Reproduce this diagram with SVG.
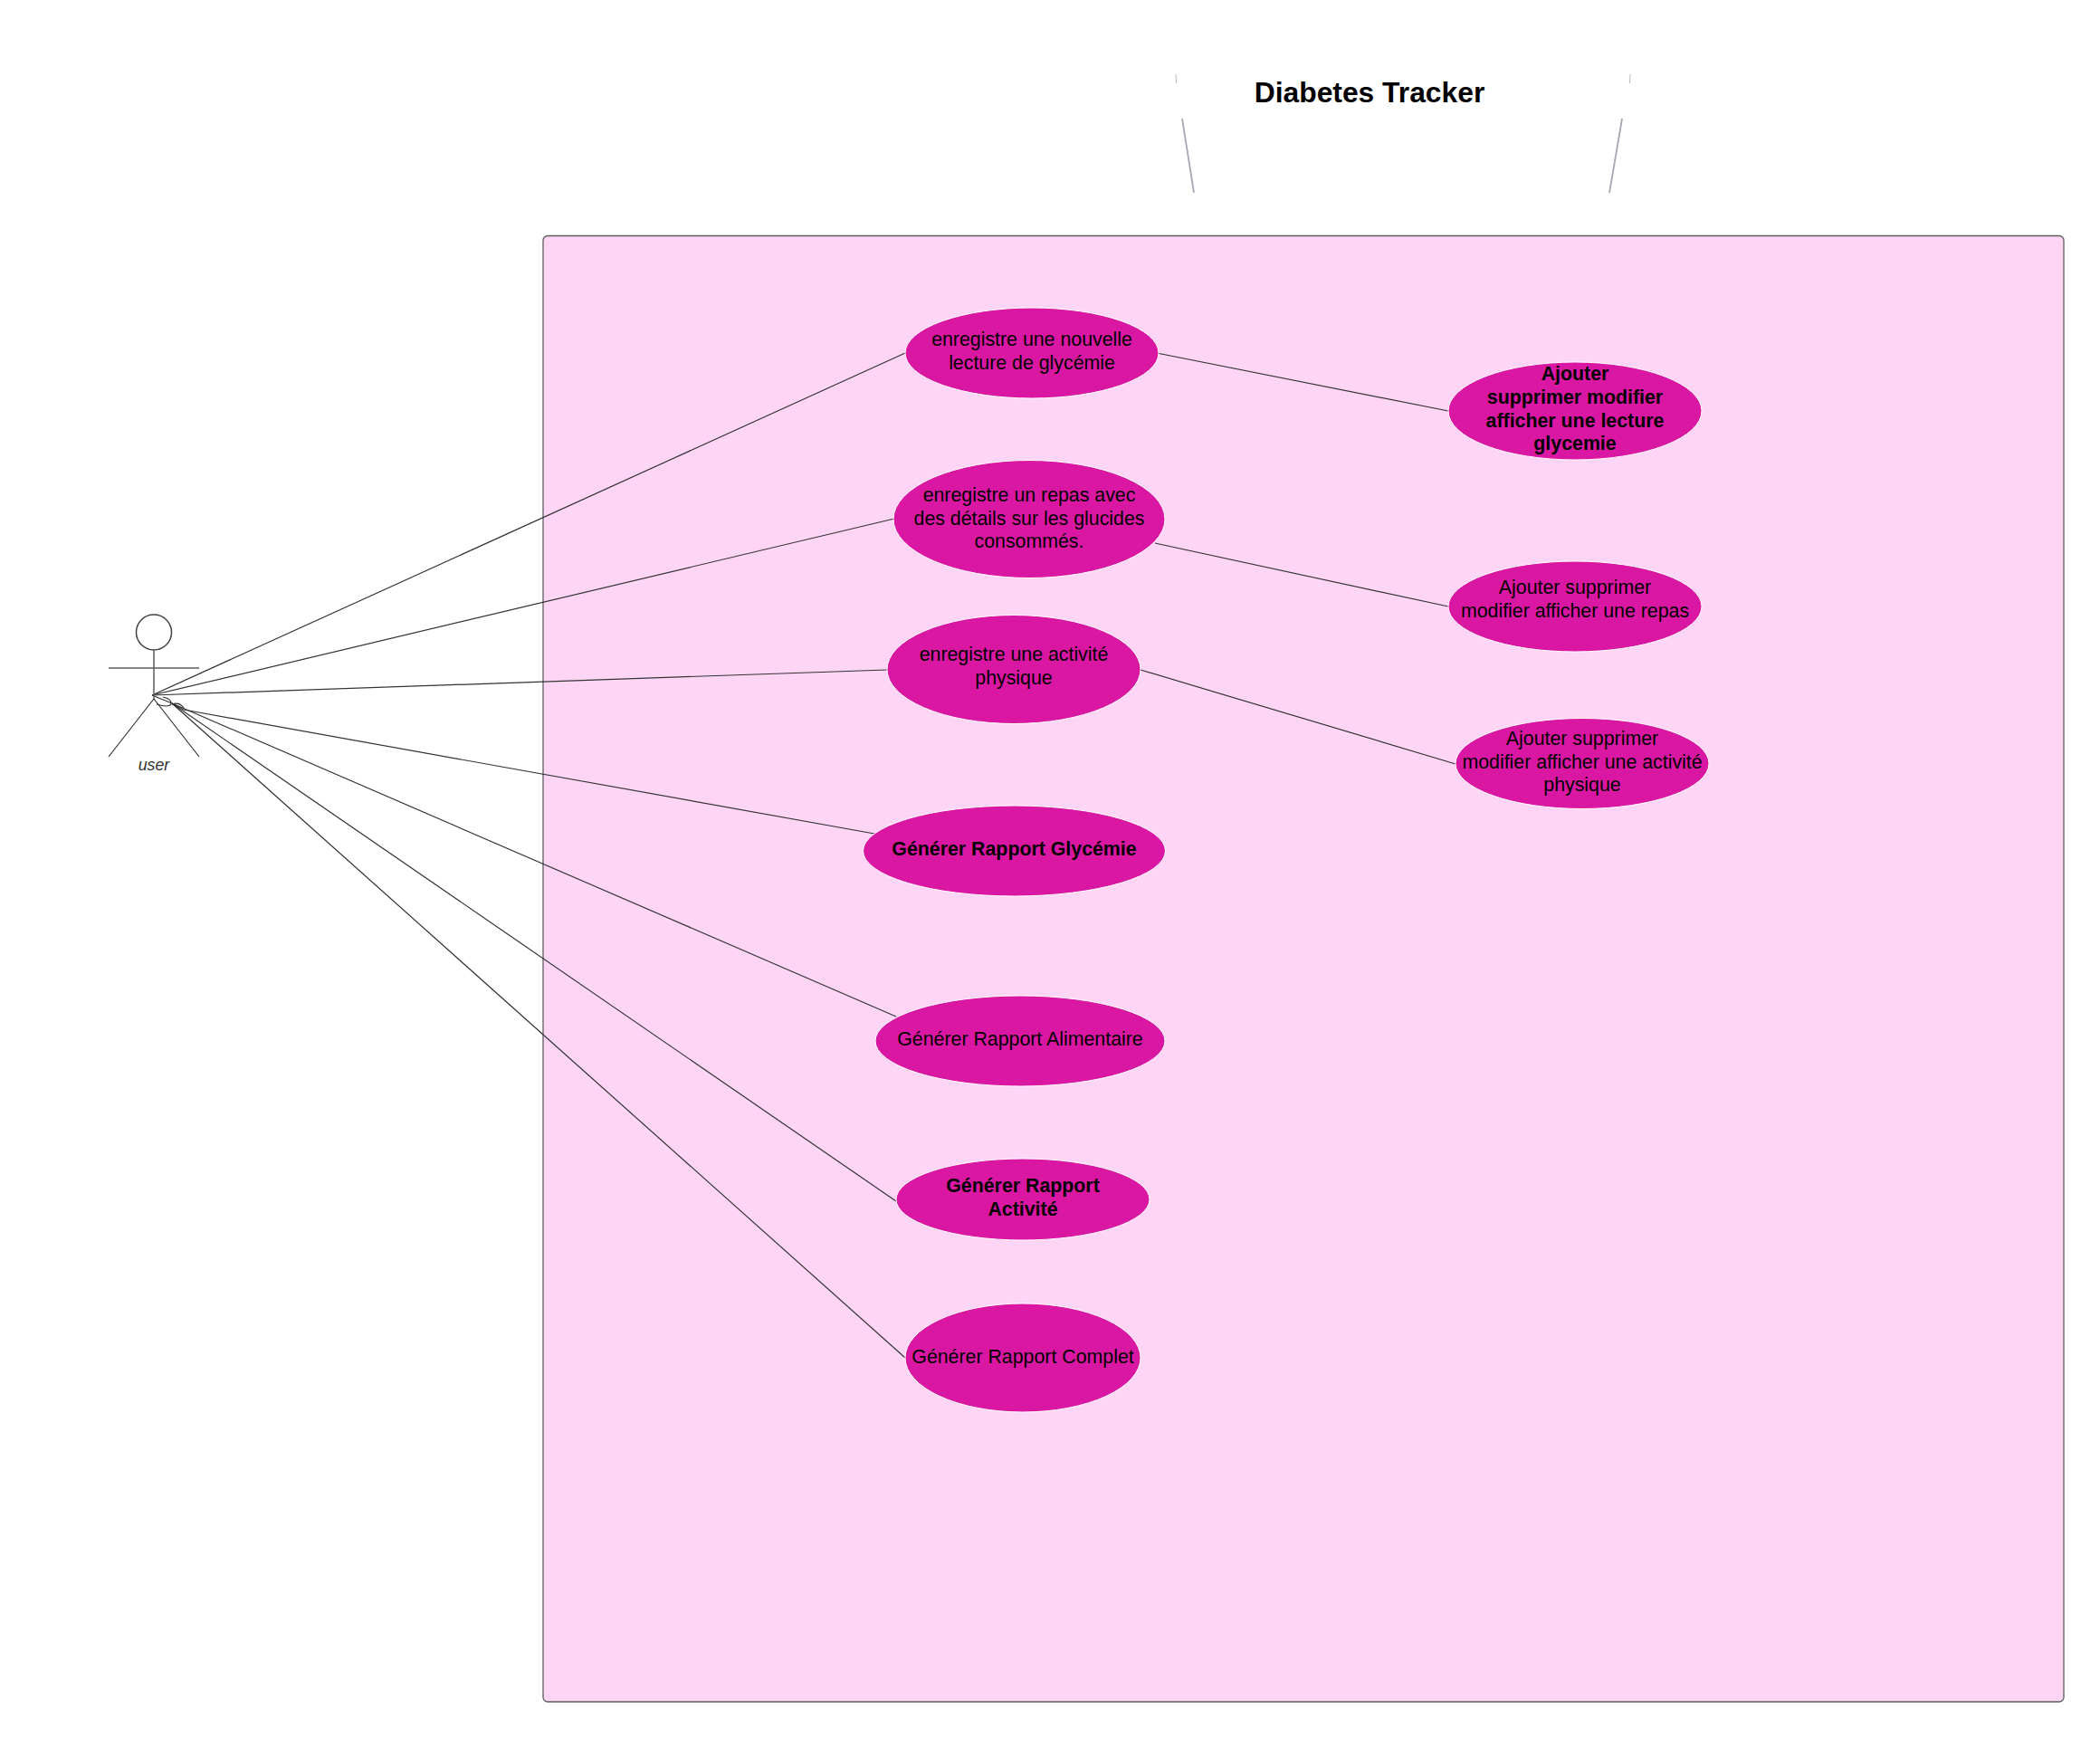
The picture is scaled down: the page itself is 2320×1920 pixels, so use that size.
<svg xmlns="http://www.w3.org/2000/svg" width="2320" height="1920" viewBox="0 0 2320 1920">
<style>
text{font-family:"Liberation Sans",Arial,sans-serif;fill:#000;text-anchor:middle;font-size:21.33px}
.b{font-weight:bold}
.uc{fill:#da17a3;stroke:#fff;stroke-width:1}
.c{fill:none;stroke:#333;stroke-width:1.2}
.a{fill:none;stroke:#5e5e5e;stroke-width:1.5}
.t{fill:none;stroke:#a4a9b4;stroke-width:1.8}
</style>
<rect width="2320" height="1920" fill="#fff"/>
<g id="frame"><rect x="600" y="260.5" width="1680" height="1619.5" rx="5" fill="#ffd5f6" stroke="#5e5e5e" stroke-width="1.3"/></g>
<g id="title">
<path class="t" d="M1306 131L1319 213M1792 131L1778 213"/>
<path class="t" style="stroke-width:0.8" d="M1299 82L1299.5 92M1801 82L1800.5 92"/>
<text x="1513" y="113" class="b" style="font-size:31.8px">Diabetes Tracker</text>
</g>
<g id="connectors">
<path class="c" d="M168 768L1000 390"/>
<path class="c" d="M168 768L988 573"/>
<path class="c" d="M168 768L980 740"/>
<path class="c" d="M168 768L190 777L203 784"/>
<path class="c" d="M203 784L966 921"/>
<path class="c" d="M190 777L990 1123"/>
<path class="c" d="M190 777L990 1327"/>
<path class="c" d="M190 777L1000 1500"/>
<path class="c" d="M180 770Q190 772 189 778Q186 782 173 778M190 778Q198 775 203 782"/>
<path class="c" d="M1278 390L1600 454"/>
<path class="c" d="M1276 600L1600 670"/>
<path class="c" d="M1260 740L1608 844"/>
</g>
<g id="actor">
<circle class="a" cx="170" cy="698.5" r="19.5" style="stroke:#444"/>
<path class="a" d="M170 718V772M120 738H220"/>
<path class="c" d="M170 772L120 836M170 772L220 836"/>
<text x="170" y="851" style="font-size:17.8px;font-style:italic;fill:#333">user</text>
</g>
<g id="uc1"><ellipse class="uc" cx="1140" cy="390" rx="140" ry="50"/><text x="1140" y="382">enregistre une nouvelle</text><text x="1140" y="407.5">lecture de glycémie</text></g>
<g id="uc2"><ellipse class="uc" cx="1740" cy="454" rx="140" ry="54"/><g class="b"><text x="1740" y="420">Ajouter</text><text x="1740" y="445.5">supprimer modifier</text><text x="1740" y="471.5">afficher une lecture</text><text x="1740" y="497">glycemie</text></g></g>
<g id="uc3"><ellipse class="uc" cx="1137" cy="573.5" rx="150" ry="65"/><text x="1137" y="554.3">enregistre un repas avec</text><text x="1137" y="579.8">des détails sur les glucides</text><text x="1137" y="605.3">consommés.</text></g>
<g id="uc4"><ellipse class="uc" cx="1740" cy="670" rx="140" ry="50"/><text x="1740" y="656">Ajouter supprimer</text><text x="1740" y="681.5">modifier afficher une repas</text></g>
<g id="uc5"><ellipse class="uc" cx="1120" cy="739.5" rx="140" ry="60"/><text x="1120" y="730">enregistre une activité</text><text x="1120" y="755.5">physique</text></g>
<g id="uc6"><ellipse class="uc" cx="1748" cy="843.5" rx="140" ry="50"/><text x="1748" y="823">Ajouter supprimer</text><text x="1748" y="848.5">modifier afficher une activité</text><text x="1748" y="874">physique</text></g>
<g id="uc7"><ellipse class="uc" cx="1120.5" cy="940" rx="167" ry="50"/><text x="1120.5" y="944.5" class="b">Générer Rapport Glycémie</text></g>
<g id="uc8"><ellipse class="uc" cx="1127" cy="1150" rx="160" ry="50"/><text x="1127" y="1154.5">Générer Rapport Alimentaire</text></g>
<g id="uc9"><ellipse class="uc" cx="1130" cy="1325" rx="140" ry="45"/><g class="b"><text x="1130" y="1317">Générer Rapport</text><text x="1130" y="1342.5">Activité</text></g></g>
<g id="uc10"><ellipse class="uc" cx="1130" cy="1500" rx="130" ry="60"/><text x="1130" y="1505.5">Générer Rapport Complet</text></g>
</svg>
